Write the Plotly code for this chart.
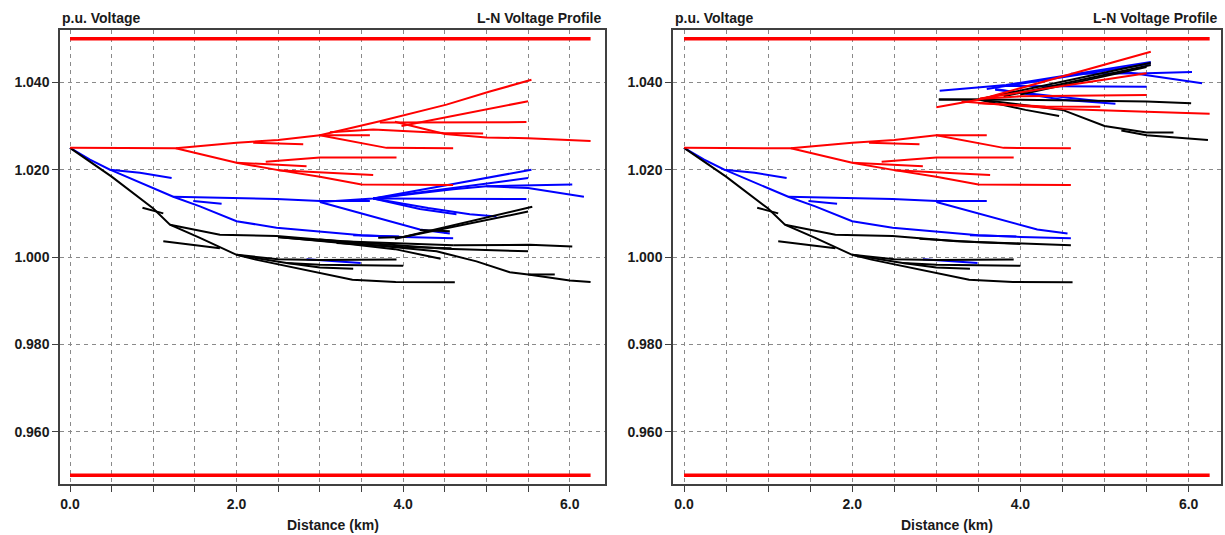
import plotly.graph_objects as go

# ---------------- data (distance km, voltage p.u.) ----------------
LIMIT_X = [0.0, 6.25]
LIMIT_HI = 1.05
LIMIT_LO = 0.95

# segments common to both panels (upstream of the regulator)
red_common = [
    [(0, 1.025), (0.5, 1.0250), (1.27, 1.0249), (2.0, 1.0262), (2.5, 1.0268), (3.0, 1.0279), (3.6, 1.0279)],
    [(1.27, 1.0249), (2.0, 1.0216), (2.5, 1.0199), (3.0, 1.0184), (3.5, 1.0166), (4.6, 1.0165)],
    [(2.0, 1.0216), (2.84, 1.0208)],
    [(2.5, 1.0199), (3.64, 1.0188)],
    [(2.35, 1.0218), (3.0, 1.0228), (3.92, 1.0228)],
    [(2.2, 1.0262), (2.8, 1.0258)],
    [(3.0, 1.0279), (3.8, 1.0250), (4.6, 1.0249)],
]
blue_common = [
    [(0, 1.025), (0.24, 1.0223), (0.48, 1.0200), (0.84, 1.0193), (1.22, 1.0181)],
    [(0.48, 1.0200), (0.84, 1.0170), (1.24, 1.0138), (1.56, 1.0116), (2.0, 1.0082), (2.48, 1.0067),
     (2.96, 1.0059), (3.5, 1.0050), (4.0, 1.0046), (4.6, 1.0043)],
    [(1.24, 1.0138), (2.0, 1.0135), (2.48, 1.0133), (3.0, 1.0128), (3.6, 1.0128)],
    [(1.48, 1.0128), (1.82, 1.0122)],
    [(3.0, 1.0126), (4.2, 1.0063), (4.56, 1.0054)],
    [(2.84, 0.9995), (3.49, 0.9986)],
    [(3.4, 1.0050), (3.95, 1.0047)],
]
black_common = [
    [(0, 1.025), (0.5, 1.0184), (1.0, 1.0111), (1.2, 1.0074), (1.56, 1.0044), (2.0, 1.0005), (2.23, 0.9994),
     (2.62, 0.9979), (3.0, 0.9964), (3.39, 0.9948), (3.91, 0.9943), (4.62, 0.9942)],
    [(0.87, 1.0113), (1.12, 1.0100)],
    [(1.2, 1.0074), (1.8, 1.0051), (2.48, 1.0048), (3.24, 1.0036), (4.6, 1.0027)],
    [(1.12, 1.0036), (1.8, 1.0020)],
    [(2.0, 1.0005), (2.5, 0.9995), (3.0, 0.9993), (3.92, 0.9994)],
    [(2.0, 1.0005), (2.6, 0.9986), (3.0, 0.9982), (4.0, 0.9980)],
    [(2.6, 0.9986), (3.0, 0.9976), (3.4, 0.9973)],
]

# left panel only (no regulator)
red_left = [
    [(3.0, 1.0279), (3.72, 1.0311), (4.52, 1.0349), (5.04, 1.0379), (5.54, 1.0406)],
    [(3.98, 1.0300), (5.5, 1.0357)],
    [(3.72, 1.0308), (5.48, 1.0309)],
    [(3.12, 1.0286), (3.64, 1.0292), (4.48, 1.0284), (4.96, 1.0283)],
    [(3.9, 1.0310), (4.5, 1.0282), (5.0, 1.0274), (5.5, 1.0272), (6.25, 1.0266)],
]
blue_left = [
    [(3.0, 1.0126), (3.64, 1.0134), (4.6, 1.0167), (5.54, 1.0200)],
    [(3.64, 1.0134), (5.5, 1.0181)],
    [(3.64, 1.0134), (4.6, 1.0155), (5.0, 1.0162), (6.03, 1.0166)],
    [(5.0, 1.0162), (5.5, 1.0158), (6.17, 1.0138)],
    [(3.64, 1.0134), (5.48, 1.0133)],
    [(3.64, 1.0134), (4.2, 1.0110), (4.64, 1.0098)],
    [(3.64, 1.0134), (4.3, 1.0112), (4.8, 1.0098), (5.12, 1.0093)],
]
black_left = [
    [(4.6, 1.0027), (5.52, 1.0028), (6.03, 1.0024)],
    [(2.5, 1.0046), (3.2, 1.0033), (3.9, 1.0018), (4.45, 0.9996)],
    [(2.5, 1.0045), (3.5, 1.0030), (4.4, 1.0013), (4.88, 0.9990), (5.28, 0.9965), (5.5, 0.9960),
     (6.0, 0.9946), (6.25, 0.9943)],
    [(5.5, 0.9960), (5.82, 0.9960)],
    [(3.0, 1.0040), (4.5, 1.0019), (5.5, 1.0013)],
    [(3.2, 1.0032), (4.0, 1.0023), (4.58, 1.0020)],
    [(3.7, 1.0044), (4.0, 1.0046), (5.55, 1.0115)],
    [(3.9, 1.0042), (5.5, 1.0104)],
    [(4.2, 1.0062), (4.56, 1.0059)],
]

# right panel only (downstream of the regulator)
red_right = [
    [(3.0, 1.0343), (3.5, 1.0360), (5.55, 1.0470)],
    [(3.52, 1.0363), (5.5, 1.0421)],
    [(3.5, 1.0362), (4.0, 1.0368), (5.5, 1.0371)],
    [(3.3, 1.0356), (4.5, 1.0339), (5.5, 1.0333), (6.25, 1.0328)],
    [(3.5, 1.0352), (4.3, 1.0345), (4.95, 1.0344)],
]
blue_right = [
    [(3.04, 1.0381), (3.83, 1.0394), (5.55, 1.0447)],
    [(3.6, 1.0385), (5.55, 1.0443)],
    [(3.8, 1.0392), (5.5, 1.0390)],
    [(3.7, 1.0385), (4.5, 1.0360), (5.13, 1.0351)],
    [(3.7, 1.0383), (4.5, 1.0366), (4.95, 1.0357)],
    [(4.6, 1.0420), (5.5, 1.0421), (6.04, 1.0424)],
    [(5.2, 1.0425), (5.5, 1.0417), (6.16, 1.0398)],
]
black_right = [
    [(3.03, 1.0361), (3.5, 1.0361), (4.06, 1.0337), (4.46, 1.0323)],
    [(3.5, 1.0361), (4.5, 1.0337), (5.0, 1.0300), (5.5, 1.0285), (5.82, 1.0285)],
    [(5.2, 1.0290), (5.5, 1.0279), (6.23, 1.0268)],
    [(3.03, 1.0361), (4.0, 1.0360), (5.5, 1.0356), (6.03, 1.0352)],
    [(3.5, 1.0361), (5.55, 1.0445)],
    [(3.8, 1.0368), (5.55, 1.0440)],
    [(4.0, 1.0372), (5.5, 1.0435)],
    [(2.8, 1.0042), (3.5, 1.0034), (4.0, 1.0030)],
]

Y_TICKS = [0.96, 0.98, 1.00, 1.02, 1.04]
X_TICKS = [0, 2, 4, 6]

# ---------------- figure ----------------
W, H = 1225, 535
FONT = "Liberation Sans, Arial, sans-serif"
RED, BLUE, BLACK = "#ff0000", "#0000ff", "#000000"

fig = go.Figure()


def add_group(lines, color, xa, ya, width=2.0):
    xs, ys = [], []
    for ln in lines:
        for x, y in ln:
            xs.append(x)
            ys.append(y)
        xs.append(None)
        ys.append(None)
    fig.add_trace(go.Scatter(x=xs, y=ys, mode="lines", xaxis=xa, yaxis=ya,
                             line=dict(color=color, width=width),
                             hoverinfo="skip", showlegend=False))


panels = [
    ("x", "y", black_common + black_left, red_common + red_left, blue_common + blue_left),
    ("x2", "y2", black_common + black_right, red_common + red_right, blue_common + blue_right),
]
for xa, ya, blk, red, blu in panels:
    add_group(blu, BLUE, xa, ya)
    add_group(blk, BLACK, xa, ya)
    add_group(red, RED, xa, ya)
    for lv in (LIMIT_HI, LIMIT_LO):
        fig.add_trace(go.Scatter(x=LIMIT_X, y=[lv, lv], mode="lines", xaxis=xa, yaxis=ya,
                                 line=dict(color=RED, width=3.5), hoverinfo="skip", showlegend=False))

T, B = 30, 51
plot_h = H - T - B
GRID = "#8a8a8a"
FRAME = "#404040"
tickfont = dict(family=FONT, size=14, color="#1a1a1a", weight="bold")


def xaxis(domain, rng, anchor):
    return dict(domain=domain, range=rng, anchor=anchor, tickmode="linear", tick0=0, dtick=2,
                tickformat=".1f", ticks="outside", ticklen=6, tickcolor=FRAME, tickwidth=1,
                showline=True, linecolor=FRAME, linewidth=1.5, mirror=True,
                showgrid=True, gridcolor=GRID, griddash="4px,4px", gridwidth=1, zeroline=False,
                minor=dict(tick0=0, dtick=0.5, showgrid=True, gridcolor=GRID, griddash="4px,4px",
                           ticks="outside", ticklen=6, tickcolor=FRAME),
                tickfont=tickfont, fixedrange=True)


def yaxis(anchor):
    return dict(domain=[0, 1], range=[0.948, 1.052], anchor=anchor, tickmode="array", tickvals=Y_TICKS,
                ticktext=[f"{v:.3f}" for v in Y_TICKS], ticks="outside", ticklen=6, tickcolor=FRAME,
                showline=True, linecolor=FRAME, linewidth=1.5, mirror=True,
                showgrid=True, gridcolor=GRID, griddash="4px,4px", gridwidth=1, zeroline=False,
                tickfont=tickfont, fixedrange=True)


L1, R1 = 60, 605
L2, R2 = 673, 1221
fig.update_layout(
    width=W, height=H,
    margin=dict(l=0, r=0, t=T, b=B, pad=0),
    paper_bgcolor="white", plot_bgcolor="white",
    xaxis=xaxis([L1 / W, R1 / W], [-0.12, 6.423], "y"),
    yaxis=yaxis("x"),
    xaxis2=xaxis([L2 / W, R2 / W], [-0.131, 6.385], "y2"),
    yaxis2=yaxis("x2"),
)


def py(pix):
    return (H - B - pix) / plot_h


ann_font = dict(family=FONT, size=14, color="#1a1a1a", weight="bold")
for L, R in ((L1, R1), (L2, R2)):
    fig.add_annotation(text="p.u. Voltage", x=L / W, y=py(18), xref="paper", yref="paper",
                       xanchor="left", yanchor="middle", showarrow=False, font=ann_font)
    fig.add_annotation(text="L-N Voltage Profile", x=(R - 2) / W, y=py(18), xref="paper", yref="paper",
                       xanchor="right", yanchor="middle", showarrow=False, font=ann_font)
    fig.add_annotation(text="Distance (km)", x=(L + R) / 2 / W, y=py(525), xref="paper", yref="paper",
                       xanchor="center", yanchor="middle", showarrow=False, font=ann_font)

fig.write_html("out.html")
